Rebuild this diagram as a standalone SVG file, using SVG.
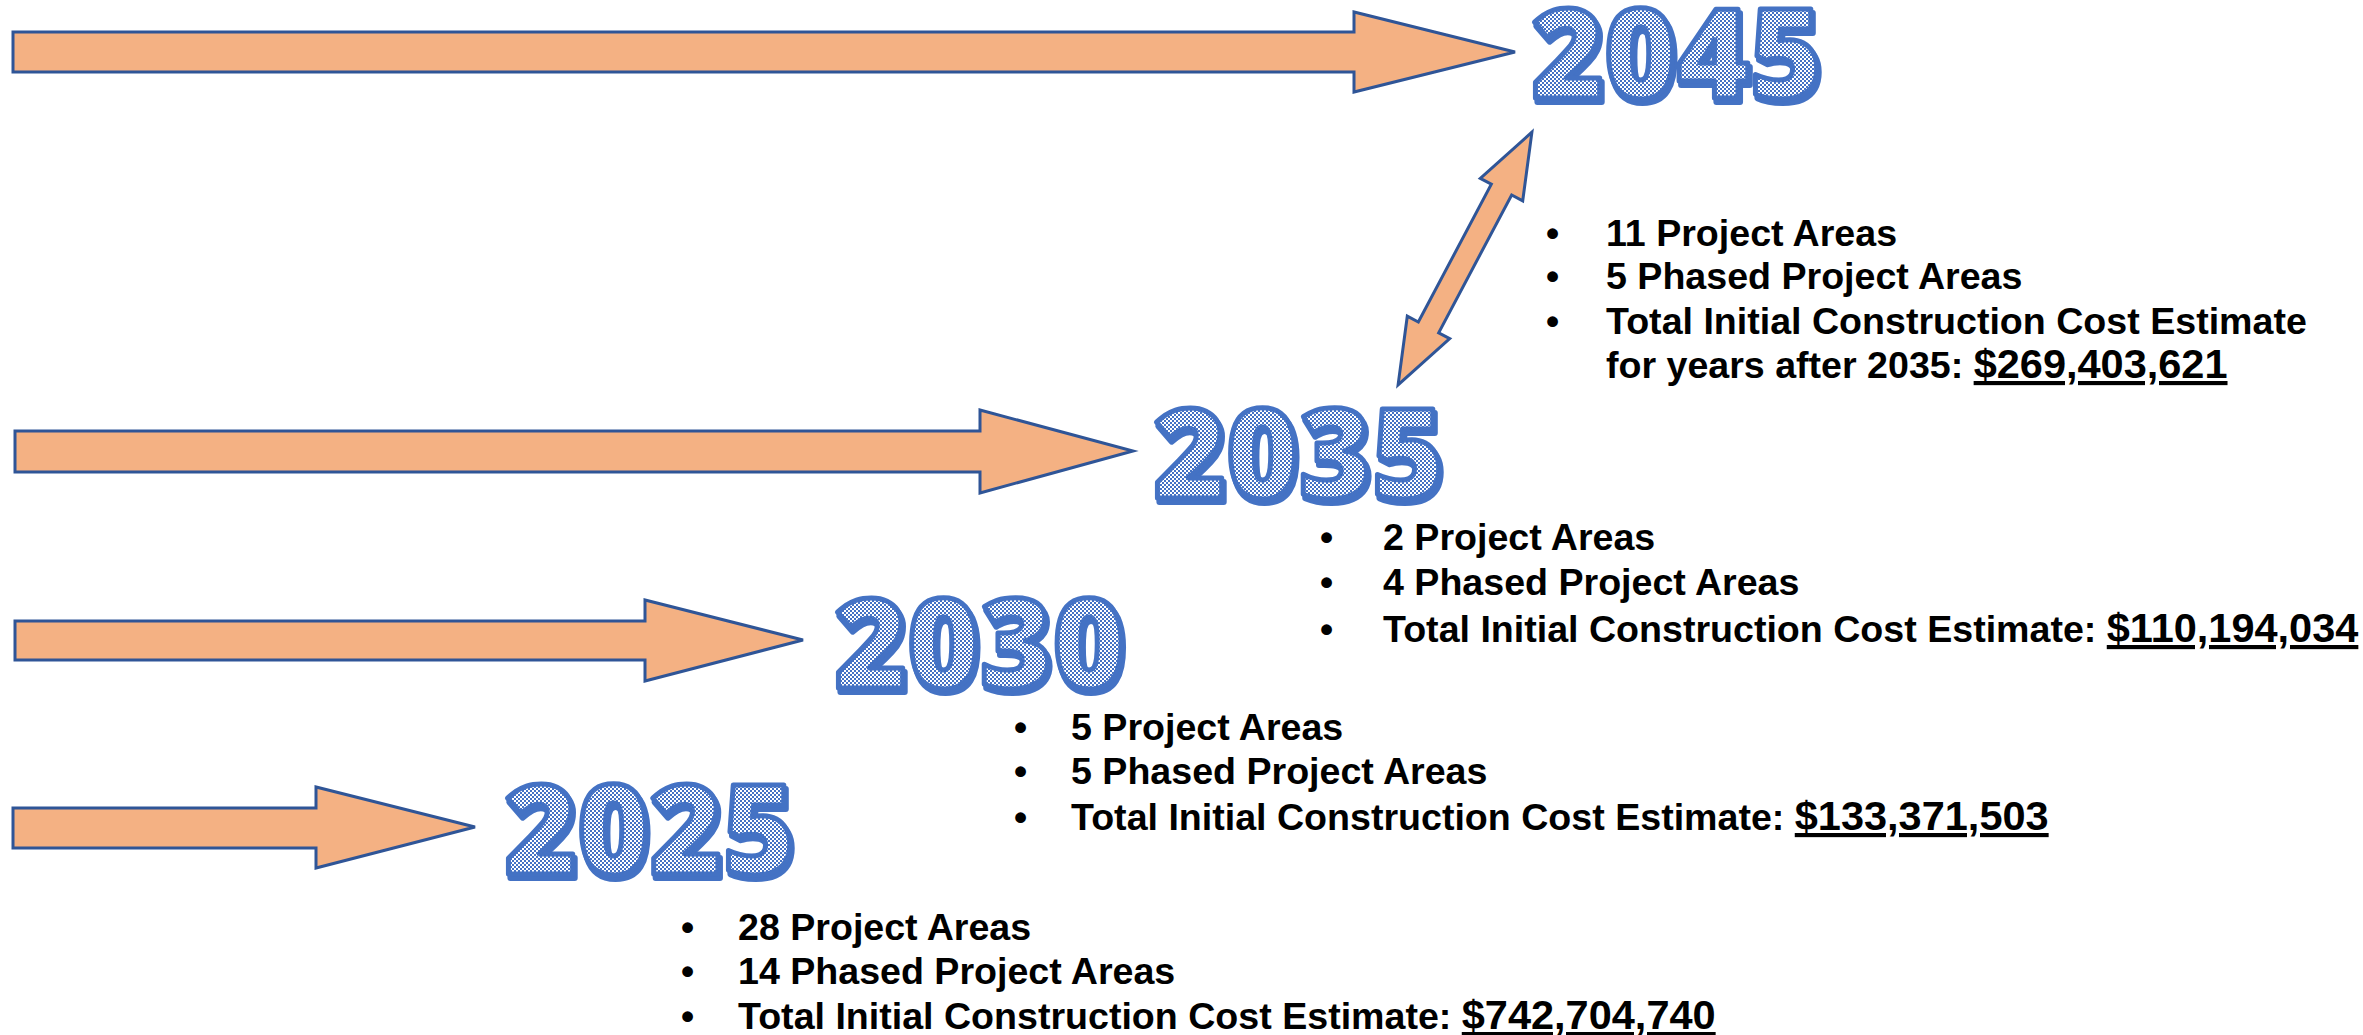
<svg xmlns="http://www.w3.org/2000/svg" width="2363" height="1035" viewBox="0 0 2363 1035">
  <defs>
    <!-- fine blue/white checker used inside the year numerals -->
    <pattern id="checker" width="4" height="4" patternUnits="userSpaceOnUse">
      <rect width="4" height="4" fill="#ffffff"/>
      <rect width="2" height="2" fill="#4472C4"/>
      <rect x="2" y="2" width="2" height="2" fill="#4472C4"/>
    </pattern>
  </defs>
  <style>
    .arrow { fill: #F4B183; stroke: #2F5597; stroke-width: 3; stroke-linejoin: miter; }
    .year { font-family: "Open Sans", "DejaVu Sans", sans-serif; font-weight: 800; font-size: 124px; text-anchor: middle; }
    .year-shadow { fill: #4472C4; stroke: #4472C4; stroke-width: 6; stroke-linejoin: round; }
    .year-face { fill: url(#checker); stroke: #4472C4; stroke-width: 5; stroke-linejoin: round; }
    .item { font-family: "Liberation Sans", Arial, sans-serif; font-weight: bold; font-size: 37.6px; fill: #000000; }
    .amount { text-decoration: underline; font-size: 41.5px; }
  </style>

  <rect width="2363" height="1035" fill="#ffffff"/>

  <!-- timeline arrows -->
  <g id="connectors">
    <path id="arrow-2045" class="arrow" d="M13 32 H1354 V12 L1515 52 L1354 92 V72 H13 Z"/>
    <path id="arrow-2035" class="arrow" d="M15 431 H980 V410 L1133 451 L980 493 V472 H15 Z"/>
    <path id="arrow-2030" class="arrow" d="M15 621 H645 V600 L803 640 L645 681 V660 H15 Z"/>
    <path id="arrow-2025" class="arrow" d="M13 808 H316 V787 L475 827 L316 868 V848 H13 Z"/>
    <!-- two-headed link between 2035 and 2045 -->
    <path id="link-2035-2045" class="arrow" transform="translate(1465 258.5) rotate(-62.1)"
          d="M-143 0 L-78 -24 L-78 -11.5 L78 -11.5 L78 -24 L143 0 L78 24 L78 11.5 L-78 11.5 L-78 24 Z"/>
  </g>

  <!-- 2045 -->
  <g id="node-2045">
    <text class="year year-shadow" x="1679" y="102">2045</text>
    <text class="year year-face" x="1677" y="98">2045</text>
    <g class="item">
      <text x="1546" y="246">•</text><text x="1606" y="246">11 Project Areas</text>
      <text x="1546" y="289">•</text><text x="1606" y="289">5 Phased Project Areas</text>
      <text x="1546" y="334">•</text><text x="1606" y="334">Total Initial Construction Cost Estimate</text>
      <text x="1606" y="378">for years after 2035: <tspan class="amount">$269,403,621</tspan></text>
    </g>
  </g>

  <!-- 2035 -->
  <g id="node-2035">
    <text class="year year-shadow" x="1301" y="502">2035</text>
    <text class="year year-face" x="1299" y="498">2035</text>
    <g class="item">
      <text x="1320" y="550">•</text><text x="1383" y="550">2 Project Areas</text>
      <text x="1320" y="595">•</text><text x="1383" y="595">4 Phased Project Areas</text>
      <text x="1320" y="642">•</text><text x="1383" y="642">Total Initial Construction Cost Estimate: <tspan class="amount">$110,194,034</tspan></text>
    </g>
  </g>

  <!-- 2030 -->
  <g id="node-2030">
    <text class="year year-shadow" x="982" y="692">2030</text>
    <text class="year year-face" x="980" y="688">2030</text>
    <g class="item">
      <text x="1014" y="740">•</text><text x="1071" y="740">5 Project Areas</text>
      <text x="1014" y="784">•</text><text x="1071" y="784">5 Phased Project Areas</text>
      <text x="1014" y="830">•</text><text x="1071" y="830">Total Initial Construction Cost Estimate: <tspan class="amount">$133,371,503</tspan></text>
    </g>
  </g>

  <!-- 2025 -->
  <g id="node-2025">
    <text class="year year-shadow" x="652" y="878">2025</text>
    <text class="year year-face" x="650" y="874">2025</text>
    <g class="item">
      <text x="681" y="940">•</text><text x="738" y="940">28 Project Areas</text>
      <text x="681" y="984">•</text><text x="738" y="984">14 Phased Project Areas</text>
      <text x="681" y="1029">•</text><text x="738" y="1029">Total Initial Construction Cost Estimate: <tspan class="amount">$742,704,740</tspan></text>
    </g>
  </g>
</svg>
